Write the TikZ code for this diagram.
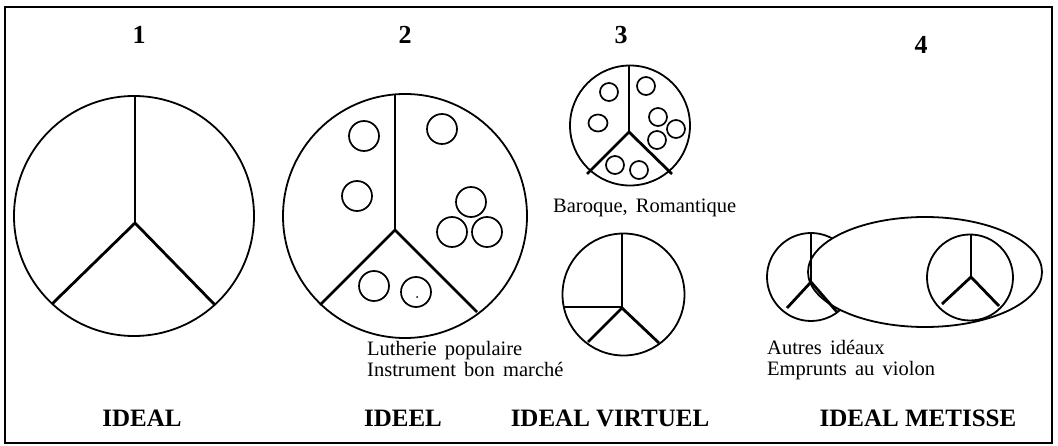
\documentclass[tikz,border=0pt]{standalone}
\usepackage{fontspec}
\setmainfont{Liberation Serif}
\newfontfamily\notefont[WordSpace=1.6]{Liberation Serif}
\begin{document}
\begin{tikzpicture}[x=1pt,y=-1pt,
  ring/.style={line width=1.8pt},
  stem/.style={line width=1.7pt},
  arm/.style={line width=2.8pt},
  dot/.style={line width=1.7pt},
  num/.style={font=\fontsize{26}{28}\selectfont\bfseries},
  title/.style={font=\fontsize{25}{27}\selectfont\bfseries},
  note/.style={font=\notefont\fontsize{20.5}{21.5}\selectfont, align=left, anchor=north west, inner sep=0pt}]
\useasboundingbox (0,0) rectangle (1058,446);
\draw[line width=1.6pt] (5,7) rectangle (1052,443);

% ---- 1
\node[num] (n1) at (139,35) {1};
\draw[ring] (134,216) circle (120);
\draw[stem] (135,96) -- (135,223);
\draw[arm] (52,304) -- (135,223) -- (215,305);
\node[title] (t1) at (142,418) {IDEAL};

% ---- 2
\node[num] (n2) at (405,35) {2};
\draw[ring] (405,216) circle (122);
\draw[stem] (395,95) -- (395,230);
\draw[arm] (320,305) -- (395,230) -- (477,312);
\foreach \p in {(364,136),(357,196),(442,129),(471,202),(452,232),(487,232),(374,286),(416,292)}
  \draw[dot] \p circle (15);
\fill (417,297) circle (1);
\node[note] (l2) at (367,341) {Lutherie populaire\\Instrument bon marché};
\node[title] (t2) at (403,418) {IDEEL};

% ---- 3
\node[num] (n3) at (621,35) {3};
\draw[ring] (630,125.5) circle (60);
\draw[stem] (629,65) -- (629,132);
\draw[arm] (587,174) -- (629,132) -- (672,174);
\foreach \p in {(609,92),(646,86),(658,117),(676,129),(657,140),(615,165),(639,170)}
  \draw[dot] \p circle (9);
\draw[dot] (598,123) ellipse (9.5 and 8.5);
\node[note, anchor=west] (l3) at (553,208) {Baroque, Romantique};

\draw[ring] (623.5,294.5) circle (61);
\draw[stem] (622,234) -- (622,308);
\draw[stem] (563,307) -- (622,307);
\draw[arm] (588,342) -- (622,308) -- (659,343);
\node[title] (t3) at (610,418) {IDEAL VIRTUEL};

% ---- 4
\node[num] (n4) at (921,45) {4};
\draw[ring] (811,277) circle (44);
\draw[ring, fill=white] (925,272) ellipse (117 and 55);
\draw[stem] (811,233) -- (811,282);
\draw[arm] (787,308) -- (811,282) -- (837,312);
\draw[ring] (970,277.5) circle (43);
\draw[stem] (971,234) -- (971,277);
\draw[arm] (942,304) -- (971,277) -- (999,306);
\node[note] (l4) at (767,340) {Autres idéaux\\Emprunts au violon};
\node[title] (t4) at (918,418) {IDEAL METISSE};
\end{tikzpicture}
\end{document}
